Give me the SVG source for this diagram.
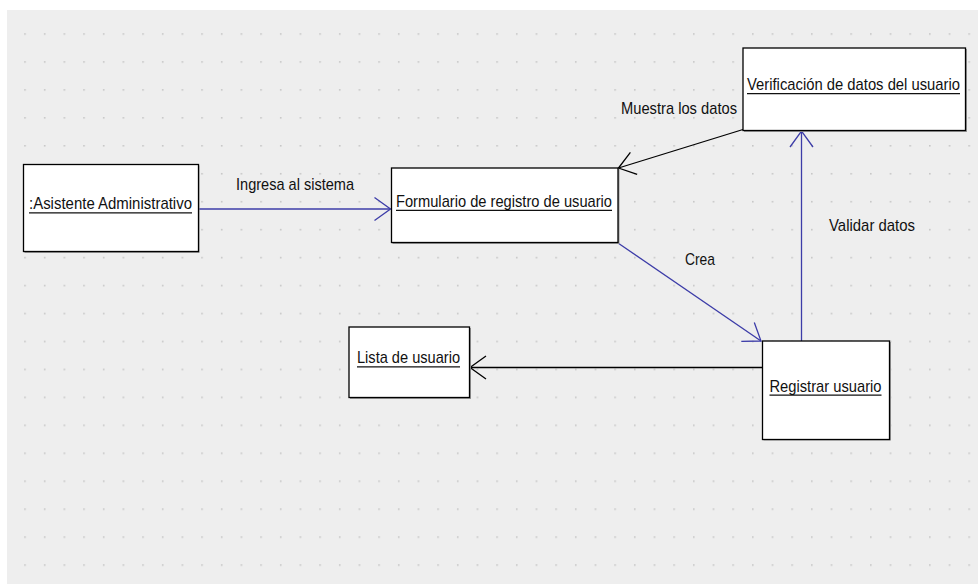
<svg xmlns="http://www.w3.org/2000/svg" width="978" height="584" viewBox="0 0 978 584">
<style>
.box{fill:#ffffff;stroke:#000000;stroke-width:1.3}
.shadow{fill:#9a9a9a}
.t{font-family:"Liberation Sans",Arial,sans-serif;font-size:17px;fill:#111111}
.ul{stroke:#111111;stroke-width:1.3}
.blue{fill:none;stroke:#3c3ca8;stroke-width:1.3}
.black{fill:none;stroke:#000000;stroke-width:1.3}
</style>
<defs>
<pattern id="grid" patternUnits="userSpaceOnUse" x="24.2" y="33.2" width="19.67" height="27.95">
<rect x="0" y="0" width="1.6" height="1.6" fill="#c6c6c6"/>
</pattern>
<marker id="ab" markerUnits="userSpaceOnUse" orient="auto" markerWidth="40" markerHeight="40" viewBox="-20 -20 40 40" refX="0" refY="0">
<path d="M-16,-11.5 L0,0 L-16,11.5" fill="none" stroke="#3c3ca8" stroke-width="1.3"/>
</marker>
<marker id="ak" markerUnits="userSpaceOnUse" orient="auto" markerWidth="40" markerHeight="40" viewBox="-20 -20 40 40" refX="0" refY="0">
<path d="M-16,-11.5 L0,0 L-16,11.5" fill="none" stroke="#000000" stroke-width="1.3"/>
</marker>
</defs>
<rect x="0" y="0" width="978" height="584" fill="#ffffff"/>
<rect x="7" y="10" width="971" height="574" fill="#eeeeee"/>
<rect x="7" y="10" width="971" height="574" fill="url(#grid)"/>

<g id="connectors">
<path class="blue" d="M198,209 H390.5" marker-end="url(#ab)"/>
<text class="t" x="236" y="190" textLength="118" lengthAdjust="spacingAndGlyphs">Ingresa al sistema</text>
<path class="black" d="M743,129.5 L618.5,168" marker-end="url(#ak)"/>
<text class="t" x="621" y="114" textLength="116" lengthAdjust="spacingAndGlyphs">Muestra los datos</text>
<path class="blue" d="M618,243 L761,341" marker-end="url(#ab)"/>
<text class="t" x="685" y="265" textLength="30" lengthAdjust="spacingAndGlyphs">Crea</text>
<path class="blue" d="M801.5,341 V131" marker-end="url(#ab)"/>
<text class="t" x="829" y="231" textLength="86" lengthAdjust="spacingAndGlyphs">Validar datos</text>
<path class="black" d="M762,367.5 H470" marker-end="url(#ak)"/>
</g>

<g id="asistente">
<rect class="shadow" x="24.5" y="165.5" width="175" height="87.5"/>
<rect class="box" x="23.5" y="164.5" width="175" height="87"/>
<text class="t" x="29" y="209" textLength="163" lengthAdjust="spacingAndGlyphs">:Asistente Administrativo</text>
<line class="ul" x1="29" y1="212.8" x2="192" y2="212.8"/>
</g>

<g id="formulario">
<rect class="shadow" x="392.5" y="169" width="227" height="75"/>
<rect class="box" x="391.5" y="168" width="226.5" height="74.5"/>
<text class="t" x="396" y="206.5" textLength="216" lengthAdjust="spacingAndGlyphs">Formulario de registro de usuario</text>
<line class="ul" x1="396" y1="210.3" x2="612" y2="210.3"/>
</g>

<g id="verificacion">
<rect class="shadow" x="744" y="49" width="223" height="83"/>
<rect class="box" x="743" y="48" width="222.5" height="82.5"/>
<text class="t" x="747" y="90" textLength="213" lengthAdjust="spacingAndGlyphs">Verificación de datos del usuario</text>
<line class="ul" x1="747" y1="93.6" x2="960" y2="93.6"/>
</g>

<g id="lista">
<rect class="shadow" x="350" y="328" width="121" height="71"/>
<rect class="box" x="349" y="327" width="120.5" height="70.5"/>
<text class="t" x="357" y="363" textLength="103" lengthAdjust="spacingAndGlyphs">Lista de usuario</text>
<line class="ul" x1="357" y1="366.8" x2="460" y2="366.8"/>
</g>

<g id="registrar">
<rect class="shadow" x="763.5" y="342" width="127.5" height="98.5"/>
<rect class="box" x="762.5" y="341" width="127" height="98.5"/>
<text class="t" x="769.5" y="391.5" textLength="112" lengthAdjust="spacingAndGlyphs">Registrar usuario</text>
<line class="ul" x1="769.5" y1="395.2" x2="881.5" y2="395.2"/>
</g>
</svg>
